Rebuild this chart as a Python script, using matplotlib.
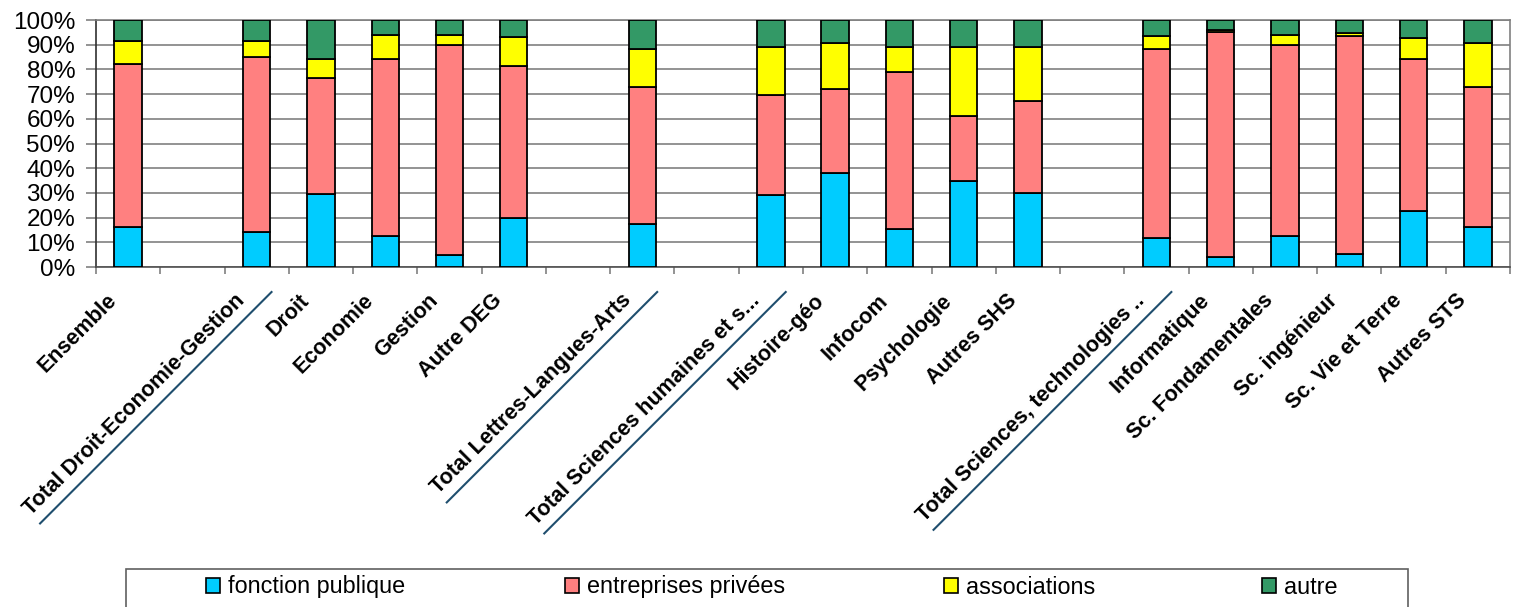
import numpy as np
import matplotlib
matplotlib.use("Agg")
import matplotlib.pyplot as plt
from matplotlib.lines import Line2D
from matplotlib.patches import Patch, Rectangle
from matplotlib.transforms import IdentityTransform, ScaledTranslation

plt.rcParams['font.family'] = ['Liberation Sans', 'DejaVu Sans']

# categories, grouped (one empty slot between groups)
groups = [
    ["Ensemble"],
    ["Total Droit-Economie-Gestion", "Droit", "Economie", "Gestion", "Autre DEG"],
    ["Total Lettres-Langues-Arts"],
    ["Total Sciences humaines et s...", "Histoire-géo", "Infocom", "Psychologie", "Autres SHS"],
    ["Total Sciences, technologies ..", "Informatique", "Sc. Fondamentales",
     "Sc. ingénieur", "Sc. Vie et Terre", "Autres STS"],
]

series = ["fonction publique", "entreprises privées", "associations", "autre"]

# shares in % (same order as the categories above)
fonction_publique = [16.0, 14.0, 29.5, 12.4, 4.7, 19.9, 17.5, 29.2, 38.0, 15.5, 34.7, 30.1,
                     11.6, 3.9, 12.4, 5.2, 22.5, 16.0]
entreprises_privees = [66.0, 71.2, 47.1, 72.0, 85.2, 61.5, 55.2, 40.4, 34.0, 63.5, 26.4, 37.3,
                       76.6, 91.3, 77.5, 88.5, 61.8, 56.7]
associations = [9.3, 6.3, 7.8, 9.4, 3.9, 11.6, 15.6, 19.5, 18.6, 10.0, 28.0, 21.7,
                5.5, 0.8, 3.9, 0.9, 8.6, 17.9]
autre = [8.7, 8.5, 15.6, 6.2, 6.2, 7.0, 11.7, 10.9, 9.4, 11.0, 10.9, 10.9,
         6.3, 4.0, 6.2, 5.4, 7.1, 9.4]

colors = ['#00CCFF', '#FF8080', '#FFFF00', '#339966']

# slot positions
labels, pos = [], []
slot = 0
for g in groups:
    for name in g:
        labels.append(name)
        pos.append(slot)
        slot += 1
    slot += 1
nslots = slot - 1
pos = np.array(pos)

data = np.array([fonction_publique, entreprises_privees, associations, autre])
data = data / data.sum(axis=0) * 100

fig = plt.figure(figsize=(15.14, 6.07), dpi=100)
ax = fig.add_axes([96 / 1514, 1 - 267 / 607, (1510 - 96) / 1514, (267 - 20) / 607])

bottom = np.zeros(len(labels))
for vals, c, name in zip(data, colors, series):
    ax.bar(pos, vals, 0.426, bottom=bottom, color=c, edgecolor='black', linewidth=1.3,
           label=name, zorder=3)
    bottom += vals

ax.set_xlim(-0.5, nslots - 0.5)
ax.set_ylim(0, 100)
ax.set_yticks(np.arange(0, 101, 10))
ax.set_yticklabels([f"{v}%" for v in range(0, 101, 10)], fontsize=17.5)
ax.yaxis.grid(True, color='#808080', linewidth=1.2, zorder=0)
ax.tick_params(axis='y', length=7, width=1.2, color='#808080', pad=8)

ax.set_xticks([])
ax.set_xticks(np.arange(-0.5, nslots, 1), minor=True)
ax.tick_params(axis='x', which='minor', length=5, width=1.2, color='#808080')

for s in ax.spines.values():
    s.set_color('#808080')
    s.set_linewidth(1.2)
ax.spines['left'].set_color('#303030')
ax.spines['bottom'].set_color('#505050')

# category labels, rotated
shift = ScaledTranslation(-22 / 100, -23 / 100, fig.dpi_scale_trans)
texts = []
for p, name in zip(pos, labels):
    t = ax.text(p, 0, name, transform=ax.get_xaxis_transform() + shift, rotation=45,
                ha='right', va='top', rotation_mode='anchor', fontsize=15.5, fontweight='bold')
    texts.append(t)

# underline the "Total" labels
fig.canvas.draw()
renderer = fig.canvas.get_renderer()
for t in texts:
    if t.get_text().startswith("Total"):
        bb = t.get_window_extent(renderer)
        fig.add_artist(Line2D([bb.x0 + 20, bb.x1 + 22], [bb.y0 - 4, bb.y1 - 2],
                              transform=IdentityTransform(), color='#1F4E6E', linewidth=1.5))

# legend box, cut by the bottom of the picture
fig.add_artist(Rectangle((126 / 1514, -0.05), (1408 - 126) / 1514, 0.05 + 1 - 569 / 607,
                         transform=fig.transFigure, facecolor='white', edgecolor='#606060',
                         linewidth=1.2))
legend_x = [206, 565, 944, 1262]
for c, name, lx in zip(colors, series, legend_x):
    fig.legend(handles=[Patch(facecolor=c, edgecolor='black', linewidth=1.2)], labels=[name],
               loc='center left', bbox_to_anchor=(lx / 1514, 1 - 587 / 607), frameon=False,
               fontsize=16.8, handlelength=0.6, handleheight=0.6, handletextpad=0.35,
               borderpad=0, borderaxespad=0)

fig.savefig("out.png", dpi=100)
